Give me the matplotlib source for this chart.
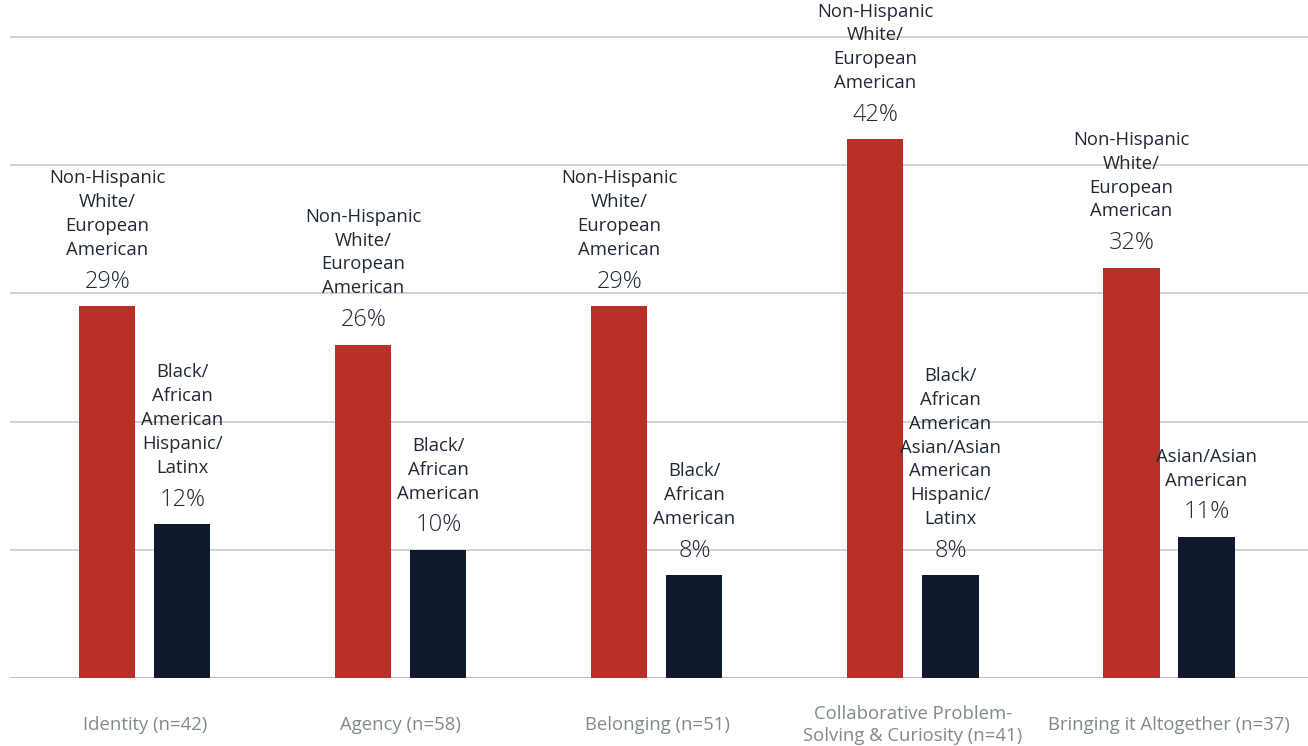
import matplotlib.pyplot as plt
import numpy as np

plt.rcParams['font.family'] = ['Open Sans', 'DejaVu Sans']

categories = ["Identity (n=42)", "Agency (n=58)", "Belonging (n=51)",
              "Collaborative Problem-\nSolving & Curiosity (n=41)",
              "Bringing it Altogether (n=37)"]
high_values = [29, 26, 29, 42, 32]
low_values = [12, 10, 8, 8, 11]
high_groups = ["Non-Hispanic\nWhite/\nEuropean\nAmerican"] * 5
low_groups = ["Black/\nAfrican\nAmerican\nHispanic/\nLatinx",
              "Black/\nAfrican\nAmerican",
              "Black/\nAfrican\nAmerican",
              "Black/\nAfrican\nAmerican\nAsian/Asian\nAmerican\nHispanic/\nLatinx",
              "Asian/Asian\nAmerican"]
grid_ticks = [0, 10, 20, 30, 40, 50]

RED = "#b83027"
NAVY = "#0e1a2b"
TEXT = "#1f2a36"

fig = plt.figure(figsize=(13.08, 7.46), dpi=100)
ax = fig.add_axes([10 / 1308, 68 / 746, 1298 / 1308, 645 / 746])

x = np.arange(len(categories))
w = 0.219
off = 0.1465
bars_hi = ax.bar(x - off, high_values, w, color=RED, zorder=3)
bars_lo = ax.bar(x + off, low_values, w, color=NAVY, zorder=3)

ax.set_ylim(0, 50.3)
ax.set_xlim(-0.527, 4.543)
for t in grid_ticks:
    ax.axhline(t, color="#c4c8c8" if t else "#a9adad", lw=1.1, zorder=1)

for bars, vals, groups in [(bars_hi, high_values, high_groups),
                           (bars_lo, low_values, low_groups)]:
    for b, v, g in zip(bars, vals, groups):
        cx = b.get_x() + b.get_width() / 2
        ax.annotate(f"{v}%", (cx, v), xytext=(0, 9), textcoords="offset points",
                    ha="center", va="bottom", fontsize=17, fontweight="light",
                    color=TEXT, annotation_clip=False)
        ax.annotate(g, (cx, v), xytext=(0, 34), textcoords="offset points",
                    ha="center", va="bottom", fontsize=13.3, color=TEXT,
                    linespacing=1.42, annotation_clip=False)

for xi, c in zip(x, categories):
    ax.annotate(c, (xi, 0), xytext=(0, -34), textcoords="offset points",
                ha="center", va="center", fontsize=13.3, color="#7f8b8a",
                linespacing=1.3, annotation_clip=False)

for s in ax.spines.values():
    s.set_visible(False)
ax.set_xticks([])
ax.set_yticks([])

fig.savefig("out.png", dpi=100)
